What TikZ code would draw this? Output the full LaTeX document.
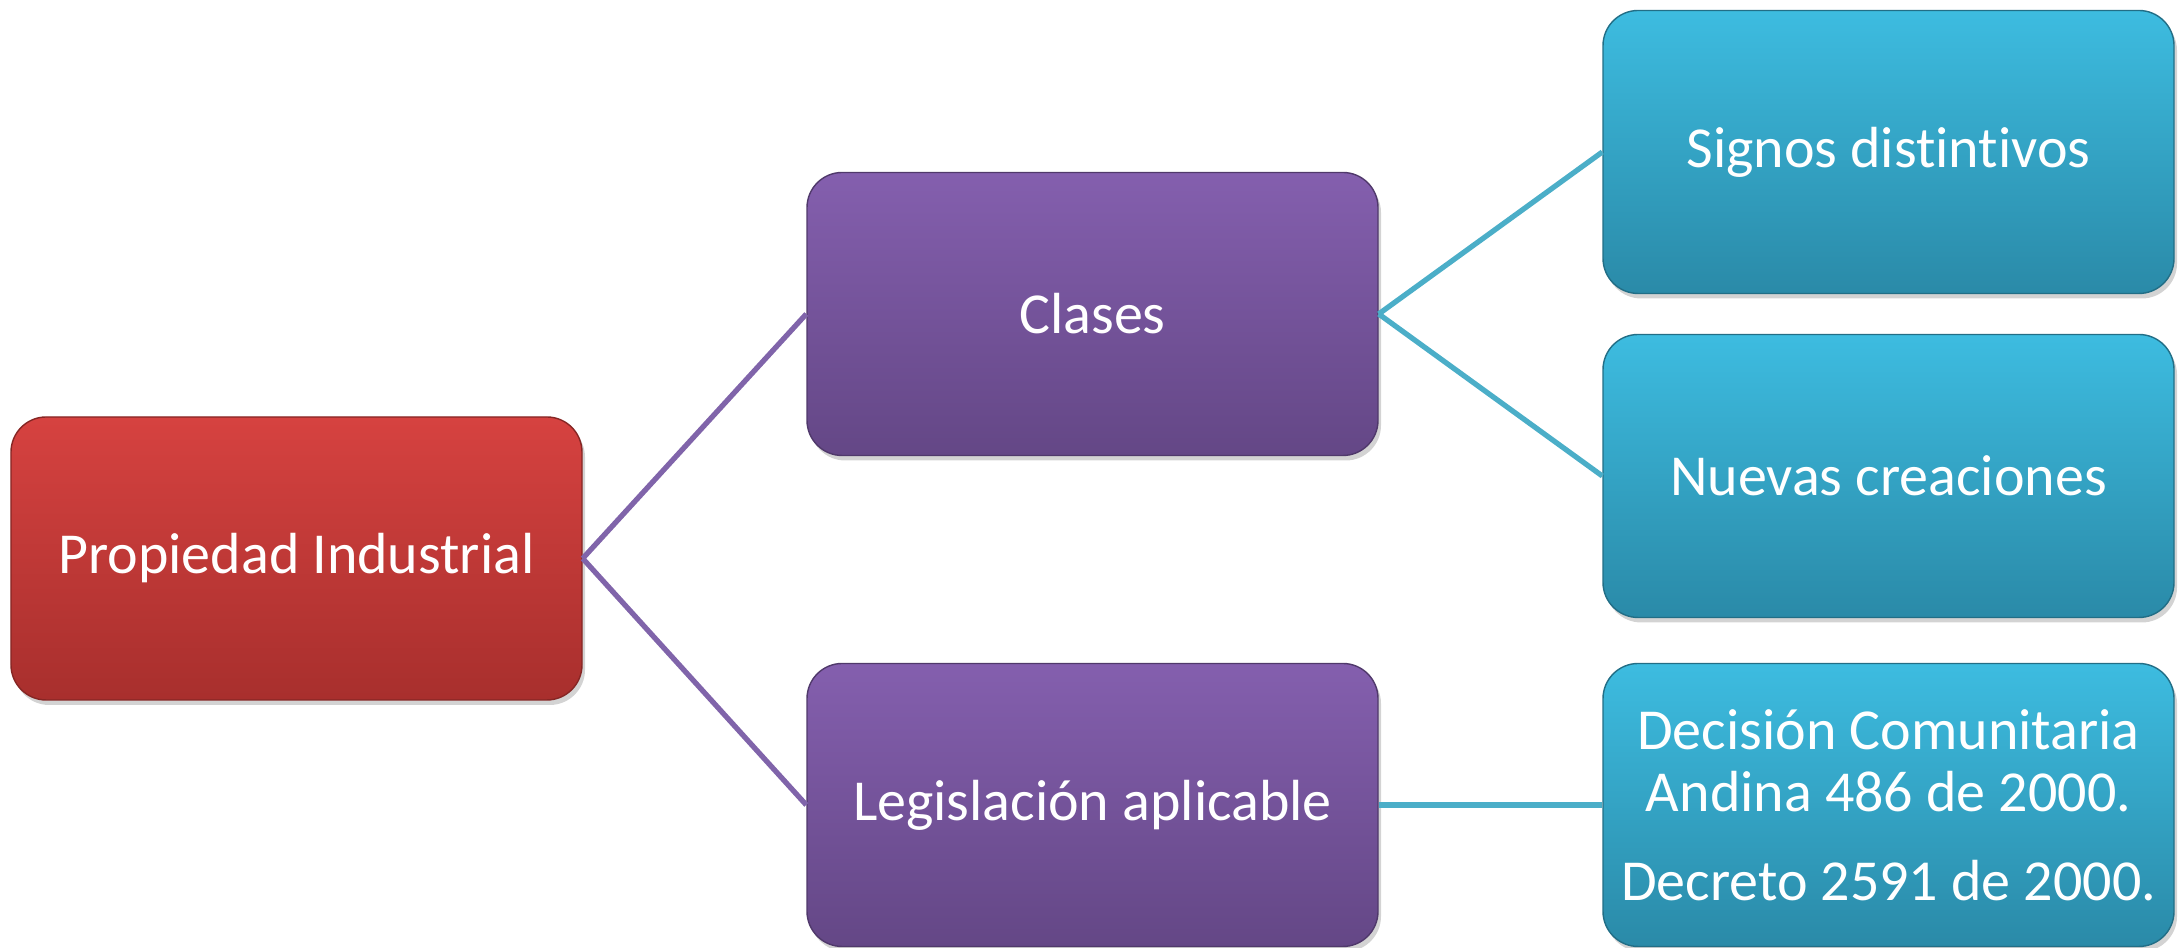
\documentclass[tikz,border=0pt]{standalone}
\usepackage{fontspec}
\setmainfont{Carlito}[Ligatures=NoCommon]
\usetikzlibrary{shadows}
\definecolor{redtop}{RGB}{214,66,64}
\definecolor{redbot}{RGB}{168,47,45}
\definecolor{purtop}{RGB}{132,95,174}
\definecolor{purbot}{RGB}{100,71,134}
\definecolor{cyatop}{RGB}{61,188,224}
\definecolor{cyabot}{RGB}{42,138,168}
\definecolor{purline}{RGB}{128,100,170}
\definecolor{cyaline}{RGB}{75,174,200}
\begin{document}
\begin{tikzpicture}[every node/.style={font=\fontsize{16.5}{17.6}\selectfont},
  box/.style={rounded corners=10pt,minimum width=5.71cm,minimum height=2.83cm,align=center,text=white,
    inner sep=2pt,drop shadow={opacity=0.35,shadow xshift=0.03cm,shadow yshift=-0.05cm}},
  redbox/.style={box,draw=redbot!80!black,top color=redtop,bottom color=redbot},
  purbox/.style={box,draw=purbot!80!black,top color=purtop,bottom color=purbot},
  cyabox/.style={box,draw=cyabot!80!black,top color=cyatop,bottom color=cyabot},
  link/.style={line width=1.5pt}]
\useasboundingbox (0,0) rectangle (21.82,9.48);
\node[redbox] (prop) at (2.965,3.895) {Propiedad Industrial};
\node[purbox] (clases) at (10.925,6.34) {Clases};
\node[purbox] (legis) at (10.925,1.43) {Legislación aplicable};
\node[cyabox] (signos) at (18.885,7.96) {Signos distintivos};
\node[cyabox] (nuevas) at (18.885,4.72) {Nuevas creaciones};
\node[cyabox] (decision) at (18.885,1.43) {Decisión Comunitaria\\Andina 486 de 2000.\\[7.7pt]Decreto 2591 de 2000.};
\draw[link,purline] (prop.east) -- (clases.west);
\draw[link,purline] (prop.east) -- (legis.west);
\draw[link,cyaline] (clases.east) -- (signos.west);
\draw[link,cyaline] (clases.east) -- (nuevas.west);
\draw[link,cyaline] (legis.east) -- (decision.west);
\end{tikzpicture}
\end{document}
